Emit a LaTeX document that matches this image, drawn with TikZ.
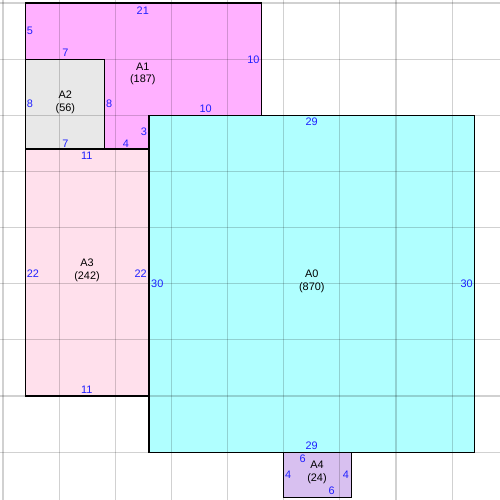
\documentclass[tikz,border=0pt]{standalone}
\usepackage{fontspec}
\setmainfont{Liberation Sans}
\definecolor{cA0}{RGB}{176,255,255}
\definecolor{cA1}{RGB}{255,176,255}
\definecolor{cA2}{RGB}{232,232,232}
\definecolor{cA3}{RGB}{255,224,236}
\definecolor{cA4}{RGB}{216,192,240}
\definecolor{lblblue}{RGB}{32,32,255}
\tikzset{
  room/.style={draw=black, line width=0.6pt},
  gridline/.style={draw=black, draw opacity=0.18, line width=0.7pt},
  lbl/.style={text=lblblue, font=\fontsize{6.2}{7.2}\selectfont, inner sep=0pt},
  nm/.style={text=black, font=\fontsize{6.2}{7.2}\selectfont, inner sep=0pt, align=center},
}
\begin{document}
\begin{tikzpicture}[x=0.2246cm, y=-0.2246cm]
\useasboundingbox[fill=white] (-0.267,-0.267) rectangle (44.26,44.26);
% fills
\fill[cA1] (2,0) -- (23,0) -- (23,10) -- (13,10) -- (13,13) -- (9,13) -- (9,5) -- (2,5) -- cycle;
\fill[cA2] (2,5) rectangle (9,13);
\fill[cA3] (2,13) rectangle (13,35);
\fill[cA0] (13,10) rectangle (42,40);
\fill[cA4] (25,40) rectangle (31,44);
% grid
\foreach \i in {0,5,...,40} {
  \draw[gridline] (\i,-0.267) -- (\i,44.26);
  \draw[gridline] (-0.267,\i) -- (44.26,\i);
}
% borders
\draw[room] (2,0) -- (23,0) -- (23,10) -- (13,10) -- (13,13) -- (9,13) -- (9,5) -- (2,5) -- cycle;
\draw[room] (2,5) rectangle (9,13);
\draw[room] (2,13) rectangle (13,35);
\draw[room] (13,10) rectangle (42,40);
\draw[room] (25,40) rectangle (31,44);
% A1 labels
\node[lbl] (a1t) at (12.45,0.7) {21};
\node[lbl] (a1l) at (2.4,2.5) {5};
\node[lbl] (a1b1) at (5.55,4.4) {7};
\node[lbl] (a1l2) at (9.45,9.0) {8};
\node[lbl] (a1r) at (22.3,5.05) {10};
\node[lbl] (a1b2) at (18.05,9.45) {10};
\node[lbl] (a1l3) at (12.55,11.5) {3};
\node[lbl] (a1b3) at (10.95,12.5) {4};
\node[nm] (a1n) at (12.45,6.3) {A1\\(187)};
% A2 labels
\node[lbl] (a2l) at (2.4,9.0) {8};
\node[lbl] (a2b) at (5.55,12.5) {7};
\node[nm] (a2n) at (5.55,8.85) {A2\\(56)};
% A3 labels
\node[lbl] (a3t) at (7.45,13.6) {11};
\node[lbl] (a3l) at (2.67,24.07) {22};
\node[lbl] (a3r) at (12.26,24.07) {22};
\node[lbl] (a3b) at (7.45,34.46) {11};
\node[nm] (a3n) at (7.48,23.78) {A3\\(242)};
% A0 labels
\node[lbl] (a0t) at (27.49,10.6) {29};
\node[lbl] (a0l) at (13.74,25.0) {30};
\node[lbl] (a0r) at (41.29,25.0) {30};
\node[lbl] (a0b) at (27.49,39.45) {29};
\node[nm] (a0n) at (27.5,24.78) {A0\\(870)};
% A4 labels
\node[lbl] (a4t) at (26.69,40.6) {6};
\node[lbl] (a4l) at (25.4,42.03) {4};
\node[lbl] (a4r) at (30.54,42.03) {4};
\node[lbl] (a4b) at (29.27,43.43) {6};
\node[nm] (a4n) at (27.96,41.8) {A4\\(24)};
\end{tikzpicture}
\end{document}
